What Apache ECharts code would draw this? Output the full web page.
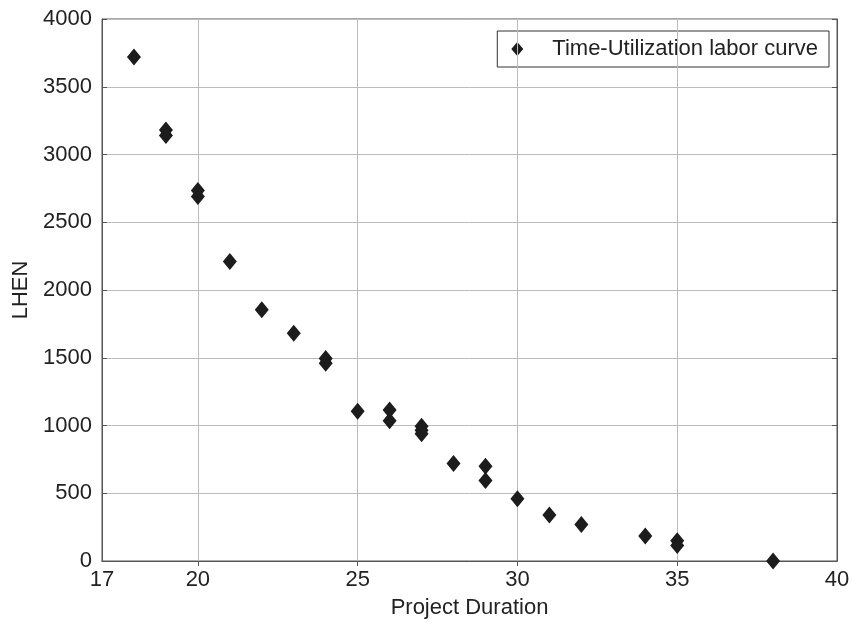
<!DOCTYPE html>
<html>
<head>
<meta charset="utf-8">
<script src="https://cdn.jsdelivr.net/npm/echarts@6/dist/echarts.min.js"></script>
<style>
  html, body { margin: 0; padding: 0; background: #fff; }
  #main { width: 852px; height: 623px; }
</style>
</head>
<body>
<div id="main"></div>
<script>
// project duration vs LHEN
const durations = [18, 19, 19, 20, 20, 21, 22, 23, 24, 24, 25, 26, 26, 27, 27, 27, 28, 29, 29, 30, 31, 32, 34, 35, 35, 38];
const lhen = [3720, 3180, 3140, 2735, 2690, 2210, 1855, 1680, 1495, 1460, 1105, 1115, 1035, 995, 965, 940, 720, 700, 595, 460, 340, 270, 185, 150, 115, 0];
const xLabels = [17, 20, 25, 30, 35, 40];
const xGrid = [20, 25, 30, 35];

const chart = echarts.init(document.getElementById('main'), null, { renderer: 'canvas' });

const font = 'Liberation Sans, Arial, Helvetica, sans-serif';
const points = durations.map((d, i) => [d, lhen[i]]);

const option = {
  backgroundColor: '#fff',
  animation: false,
  textStyle: { fontFamily: font },
  grid: {
    left: 102, right: 15, top: 19, bottom: 62,
    containLabel: false,
    outerBoundsMode: 'none',
    show: true, borderColor: '#555', borderWidth: 1
  },
  legend: {
    right: 23, top: 31,
    data: ['Time-Utilization labor curve'],
    backgroundColor: '#fff',
    borderColor: '#333',
    borderWidth: 1,
    borderRadius: 0,
    padding: [7, 11, 7, 14],
    itemWidth: 12,
    itemHeight: 14,
    itemStyle: { opacity: 1 },
    textStyle: { fontSize: 22, color: '#222', fontFamily: font, padding: [0, 0, 0, 24] }
  },
  xAxis: [{
    type: 'value',
    min: 17, max: 40, interval: 1,
    name: 'Project Duration',
    nameLocation: 'middle',
    nameGap: 36,
    nameTextStyle: { fontSize: 22, color: '#222' },
    axisLine: { show: true, lineStyle: { color: '#555' } },
    axisTick: { show: true, inside: true, length: 5, lineStyle: { color: '#555' }, customValues: xGrid },
    axisLabel: { fontSize: 22, color: '#222', margin: 8, customValues: xLabels },
    splitLine: { show: false }
  }, {
    type: 'value',
    position: 'top',
    min: 17, max: 40, interval: 1,
    axisLine: { show: true, lineStyle: { color: '#555' } },
    axisTick: { show: true, inside: true, length: 5, lineStyle: { color: '#555' }, customValues: xGrid },
    axisLabel: { show: false },
    splitLine: { show: false }
  }],
  yAxis: [{
    type: 'value',
    min: 0, max: 4000, interval: 500,
    name: 'LHEN',
    nameLocation: 'middle',
    nameGap: 70,
    nameTextStyle: { fontSize: 22, color: '#222' },
    axisLine: { show: true, lineStyle: { color: '#555' } },
    axisTick: { show: true, inside: true, length: 5, lineStyle: { color: '#555' } },
    axisLabel: { fontSize: 22, color: '#222', margin: 10, formatter: v => String(v) },
    splitLine: { show: true, lineStyle: { color: '#bbb', width: 1 } }
  }, {
    type: 'value',
    position: 'right',
    min: 0, max: 4000, interval: 500,
    axisLine: { show: true, lineStyle: { color: '#555' } },
    axisTick: { show: true, inside: true, length: 5, lineStyle: { color: '#555' } },
    axisLabel: { show: false },
    splitLine: { show: false }
  }],
  series: [{
    name: 'Time-Utilization labor curve',
    type: 'scatter',
    symbol: 'diamond',
    symbolSize: [14, 17],
    itemStyle: { color: '#1c1c1c', opacity: 1 },
    data: points,
    z: 5,
    markLine: {
      silent: true,
      symbol: 'none',
      label: { show: false },
      lineStyle: { color: '#bbb', width: 1, type: 'solid' },
      data: xGrid.map(v => ({ xAxis: v }))
    }
  }]
};

chart.setOption(option);
</script>
</body>
</html>
